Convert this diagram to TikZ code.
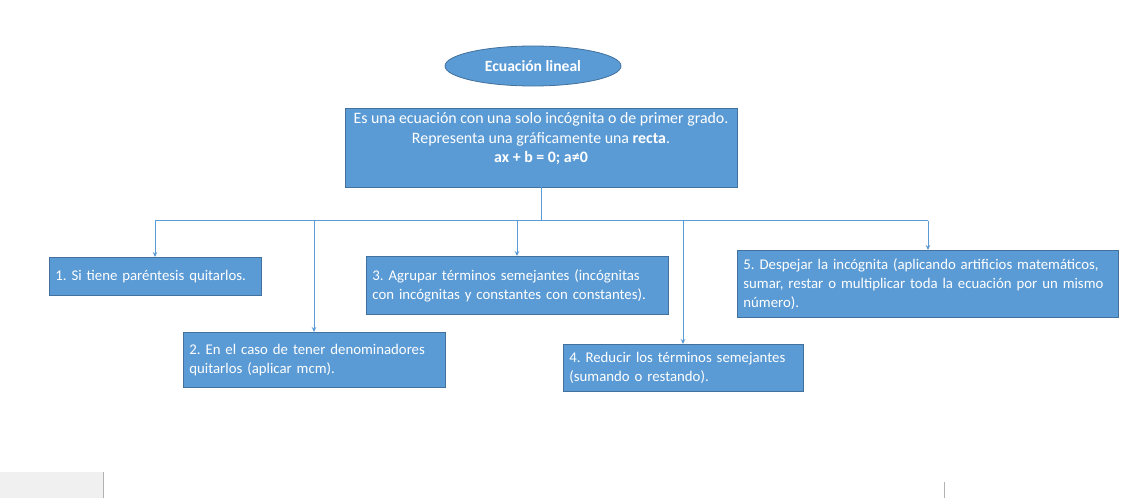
\documentclass[tikz,border=0pt]{standalone}
\usepackage{fontspec}
\setmainfont{Carlito}
\usetikzlibrary{arrows.meta,shapes.geometric}
\definecolor{boxblue}{HTML}{5B9BD5}
\definecolor{boxedge}{HTML}{41719C}
\definecolor{linecol}{HTML}{5B9BD5}
\definecolor{artgray}{HTML}{F0F0F0}
\begin{document}
\begin{tikzpicture}[x=1pt,y=-1pt,
  txt/.style={font=\fontsize{14.8}{19}\selectfont\frenchspacing, text=white},
  stepbox/.style={txt, draw=boxedge, line width=0.8pt, fill=boxblue, rectangle,
    inner xsep=6pt, inner ysep=0pt, align=left, anchor=north west},
  conn/.style={draw=linecol, line width=0.9pt},
  arr/.style={conn, -{Stealth[length=5pt,width=4.5pt]}}]
\useasboundingbox (0,0) rectangle (1128,498);
\fill[white] (0,0) rectangle (1128,498);
% screenshot artefacts
\fill[artgray] (0,472) rectangle (103,498);
\draw[gray!60, line width=0.6pt] (103.5,472) -- (103.5,498);
\draw[gray!60, line width=0.6pt] (944.5,482) -- (944.5,498);

\node[ellipse, draw=boxedge, line width=0.8pt, fill=boxblue, minimum width=176pt, minimum height=40pt,
  text=white, font=\fontsize{15.6}{19.5}\selectfont\bfseries] (title) at (533,66) {Ecuación lineal};

\node[text=white, font=\fontsize{15.9}{19.5}\selectfont\frenchspacing, draw=boxedge, line width=0.8pt, fill=boxblue,
  rectangle, minimum width=392pt, minimum height=79pt, inner sep=0pt, align=center] (main) at (541,147.5)
  {Es una ecuación con una solo incógnita o de primer grado.\\
   Representa una gráficamente una \textbf{recta}.\\
   \textbf{ax + b = 0; a≠0}\\ \mbox{}};

\node[stepbox, text width=200pt, minimum height=38pt] (s1) at (49,257)
  {\mbox{1. Si tiene paréntesis quitarlos.}};
\node[stepbox, text width=250pt, minimum height=55pt] (s2) at (183,332)
  {\mbox{2. En el caso de tener denominadores}\\\mbox{quitarlos (aplicar mcm).}};
\node[stepbox, text width=290pt, minimum height=58pt] (s3) at (366,256)
  {\mbox{3. Agrupar términos semejantes (incógnitas}\\\mbox{con incógnitas y constantes con constantes).}};
\node[stepbox, text width=228pt, minimum height=47pt] (s4) at (563,344)
  {\mbox{4. Reducir los términos semejantes}\\\mbox{(sumando o restando).}};
\node[stepbox, text width=369pt, minimum height=67pt] (s5) at (737,250)
  {\mbox{5. Despejar la incógnita (aplicando artificios matemáticos,}\\\mbox{sumar, restar o multiplicar toda la ecuación por un mismo}\\\mbox{número).}};

\coordinate (hub) at (541,220.5);
\coordinate (bl) at (155,220.5);
\coordinate (br) at (928,220.5);
\draw[conn] (main.south -| hub) -- (hub);
\draw[conn] (bl) -- (br);
\draw[arr] (bl) -- (s1.north -| bl);
\draw[arr] (314,220.5) -- (s2.north -| 314,0);
\draw[arr] (517,220.5) -- (s3.north -| 517,0);
\draw[arr] (683,220.5) -- (s4.north -| 683,0);
\draw[arr] (br) -- (s5.north -| br);
\end{tikzpicture}
\end{document}
